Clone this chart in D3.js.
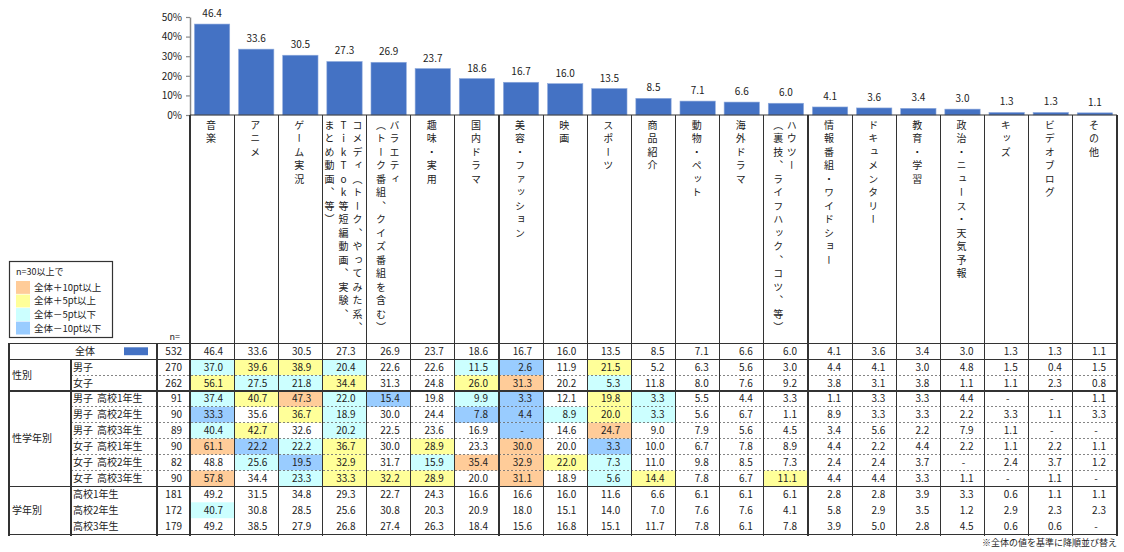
<!DOCTYPE html>
<html><head><meta charset="utf-8">
<script src="https://cdn.jsdelivr.net/npm/d3@7"></script>
<style>
body{margin:0;background:#fff;}
svg{font-family:"Noto Sans CJK JP","Noto Sans",sans-serif;}
</style></head><body>
<svg id="c" width="1124" height="552"></svg>
<script>
// ---------- DATA ----------
const categories = ["音楽","アニメ","ゲーム実況","コメディ（トーク、やってみた系、TikTok等短編動画、実験、まとめ動画、等）","バラエティ（トーク番組、クイズ番組を含む）","趣味・実用","国内ドラマ","美容・ファッション","映画","スポーツ","商品紹介","動物・ペット","海外ドラマ","ハウツー（裏技、ライフハック、コツ、等）","情報番組・ワイドショー","ドキュメンタリー","教育・学習","政治・ニュース・天気予報","キッズ","ビデオブログ","その他"];
const categoryLines = [["音楽"],["アニメ"],["ゲーム実況"],["コメディ（トーク、やってみた系、","TikTok等短編動画、実験、","まとめ動画、等）"],["バラエティ","（トーク番組、クイズ番組を含む）"],["趣味・実用"],["国内ドラマ"],["美容・ファッション"],["映画"],["スポーツ"],["商品紹介"],["動物・ペット"],["海外ドラマ"],["ハウツー","（裏技、ライフハック、コツ、等）"],["情報番組・ワイドショー"],["ドキュメンタリー"],["教育・学習"],["政治・ニュース・天気予報"],["キッズ"],["ビデオブログ"],["その他"]];

const vTotal = [46.4,33.6,30.5,27.3,26.9,23.7,18.6,16.7,16.0,13.5,8.5,7.1,6.6,6.0,4.1,3.6,3.4,3.0,1.3,1.3,1.1];
const vMale  = [37.0,39.6,38.9,20.4,22.6,22.6,11.5,2.6,11.9,21.5,5.2,6.3,5.6,3.0,4.4,4.1,3.0,4.8,1.5,0.4,1.5];
const vFemale= [56.1,27.5,21.8,34.4,31.3,24.8,26.0,31.3,20.2,5.3,11.8,8.0,7.6,9.2,3.8,3.1,3.8,1.1,1.1,2.3,0.8];
const vM1 = [37.4,40.7,47.3,22.0,15.4,19.8,9.9,3.3,12.1,19.8,3.3,5.5,4.4,3.3,1.1,3.3,3.3,4.4,null,null,1.1];
const vM2 = [33.3,35.6,36.7,18.9,30.0,24.4,7.8,4.4,8.9,20.0,3.3,5.6,6.7,1.1,8.9,3.3,3.3,2.2,3.3,1.1,3.3];
const vM3 = [40.4,42.7,32.6,20.2,22.5,23.6,16.9,null,14.6,24.7,9.0,7.9,5.6,4.5,3.4,5.6,2.2,7.9,1.1,null,null];
const vF1 = [61.1,22.2,22.2,36.7,30.0,28.9,23.3,30.0,20.0,3.3,10.0,6.7,7.8,8.9,4.4,2.2,4.4,2.2,1.1,2.2,1.1];
const vF2 = [48.8,25.6,19.5,32.9,31.7,15.9,35.4,32.9,22.0,7.3,11.0,9.8,8.5,7.3,2.4,2.4,3.7,null,2.4,3.7,1.2];
const vF3 = [57.8,34.4,23.3,33.3,32.2,28.9,20.0,31.1,18.9,5.6,14.4,7.8,6.7,11.1,4.4,4.4,3.3,1.1,null,1.1,null];
const vG1 = [49.2,31.5,34.8,29.3,22.7,24.3,16.6,16.6,16.0,11.6,6.6,6.1,6.1,6.1,2.8,2.8,3.9,3.3,0.6,1.1,1.1];
const vG2 = [40.7,30.8,28.5,25.6,30.8,20.3,20.9,18.0,15.1,14.0,7.0,7.6,7.6,4.1,5.8,2.9,3.5,1.2,2.9,2.3,2.3];
const vG3 = [49.2,38.5,27.9,26.8,27.4,26.3,18.4,15.6,16.8,15.1,11.7,7.8,6.1,7.8,3.9,5.0,2.8,4.5,0.6,0.6,null];

const rowLabels = ["全体","男子","女子","男子　高校1年生","男子　高校2年生","男子　高校3年生","女子　高校1年生","女子　高校2年生","女子　高校3年生","高校1年生","高校2年生","高校3年生"];
const rowN = [532,270,262,91,90,89,90,82,90,181,172,179];
const rowValues = [vTotal,vMale,vFemale,vM1,vM2,vM3,vF1,vF2,vF3,vG1,vG2,vG3];
const groupNames = ["性別","性学年別","学年別"];
const groupSizes = [2,6,3];

const yTicks = [0,10,20,30,40,50];
const legendTitle = "n=30以上で";
const legendLabels = ["全体＋10pt以上","全体＋5pt以上","全体－5pt以下","全体－10pt以下"];
const legendColors = ["#FFCC99","#FFFF99","#CCFFFF","#99CCFF"];
const footnote = "※全体の値を基準に降順並び替え";

// ---------- LAYOUT ----------
const svg = d3.select("#c");
const left = 190, right = 1117;
const x = d3.scaleBand().domain(categories).range([left, right]).paddingInner(0.2).paddingOuter(0.1);
const step = x.step();
const colLeft = c => x(c) - (step - x.bandwidth())/2;
const y = d3.scaleLinear().domain([0,50]).range([115,17]);

const tableTop = 343.3, tableBottom = 534.1;
const r = d3.scaleBand().domain(d3.range(rowLabels.length)).range([tableTop, tableBottom]);
const rh = r.step();
const textCol = "#222";
const lineCol = "#333";

// ---------- BARS ----------
svg.append("g").selectAll("rect").data(categories).join("rect")
  .attr("x", c => x(c)).attr("width", x.bandwidth())
  .attr("y", (c,i) => y(vTotal[i])).attr("height", (c,i) => y(0) - y(vTotal[i]))
  .attr("fill", "#4472C4").attr("stroke","#8FAADC").attr("stroke-width",0.6);

svg.append("g").selectAll("text").data(categories).join("text")
  .attr("x", c => x(c) + x.bandwidth()/2).attr("y", (c,i) => y(vTotal[i]) - 7)
  .attr("text-anchor","middle").attr("font-size",10).attr("fill",textCol)
  .text((c,i) => vTotal[i].toFixed(1));

// y axis
const yAxis = svg.append("g").attr("transform",`translate(${left},0)`)
  .call(d3.axisLeft(y).tickValues(yTicks).tickFormat(d => d + "%").tickSize(4).tickSizeOuter(0));
yAxis.select(".domain").attr("stroke","#888").attr("stroke-width",1.5);
yAxis.selectAll(".tick line").attr("stroke","#888").attr("stroke-width",1.2);
yAxis.selectAll(".tick text").attr("font-size",10).attr("fill",textCol).attr("x",-8)
  .style("font-family",'"Noto Sans CJK JP",sans-serif');

// baseline
svg.append("line").attr("x1",left).attr("x2",right).attr("y1",y(0)).attr("y2",y(0))
  .attr("stroke",lineCol).attr("stroke-width",1.2);

// ---------- CATEGORY LABELS (vertical) ----------
const lg = svg.append("g");
categories.forEach((c,i) => {
  const lines = categoryLines[i];
  const cx = x(c) + x.bandwidth()/2 - 1;
  const n = lines.length;
  const sp = n === 3 ? 14 : 13.5;
  lines.forEach((t,j) => {
    const off = ((n-1)/2 - j) * sp;
    lg.append("text").attr("x", cx + off).attr("y", 120)
      .attr("font-size",10).attr("fill",textCol)
      .style("writing-mode","vertical-rl").style("text-orientation","upright")
      .style("letter-spacing","3.5px")
      .text(t);
  });
});

// ---------- LEGEND ----------
const leg = svg.append("g");
leg.append("rect").attr("x",9.5).attr("y",261.5).attr("width",103).attr("height",76)
  .attr("fill","#fff").attr("stroke",lineCol).attr("stroke-width",1.2);
leg.append("text").attr("x",16).attr("y",274.5).attr("font-size",9).attr("fill",textCol).text(legendTitle);
const legY = d3.scaleBand().domain(d3.range(legendLabels.length)).range([281,334.5]).paddingInner(0.05);
legendLabels.forEach((t,i) => {
  leg.append("rect").attr("x",16).attr("y",legY(i)).attr("width",14).attr("height",legY.bandwidth()).attr("fill",legendColors[i]);
  leg.append("text").attr("x",34).attr("y",legY(i)+legY.bandwidth()/2+3.5).attr("font-size",9.5).attr("fill",textCol).text(t);
});
svg.append("text").attr("x",180).attr("y",340).attr("text-anchor","end").attr("font-size",9).attr("fill",textCol).text("n=");

// ---------- TABLE ----------
function cellColor(v, i) {
  const d = Math.round(((v == null ? 0 : v) - vTotal[i]) * 10) / 10;
  if (d >= 10) return legendColors[0];
  if (d >= 5) return legendColors[1];
  if (d <= -10) return legendColors[3];
  if (d <= -5) return legendColors[2];
  return null;
}
const tg = svg.append("g");
rowValues.forEach((vals, ri) => {
  if (ri === 0) return;
  vals.forEach((v, ci) => {
    const col = cellColor(v, ci);
    if (col) tg.append("rect").attr("x", colLeft(categories[ci])).attr("y", r(ri))
      .attr("width", step).attr("height", rh).attr("fill", col);
  });
});

// lines
const L = svg.append("g").attr("stroke", lineCol).attr("shape-rendering","crispEdges");
const solidRows = [0, 1, 3, 9, 12];
solidRows.forEach(k => {
  const yy = k < rowLabels.length ? r(k) : tableBottom;
  L.append("line").attr("x1",9).attr("x2",right).attr("y1",yy).attr("y2",yy).attr("stroke-width",1.2);
});
[2,4,5,6,7,8].forEach(k => {
  L.append("line").attr("x1",71).attr("x2",right).attr("y1",r(k)).attr("y2",r(k))
    .attr("stroke","#666").attr("stroke-width",0.8).attr("stroke-dasharray","2,2");
});
L.append("line").attr("x1",9).attr("x2",9).attr("y1",tableTop).attr("y2",tableBottom+2).attr("stroke-width",1.2);
L.append("line").attr("x1",71).attr("x2",71).attr("y1",r(1)).attr("y2",tableBottom+2).attr("stroke-width",1.2);
L.append("line").attr("x1",157).attr("x2",157).attr("y1",tableTop).attr("y2",tableBottom+2).attr("stroke-width",1.2);
categories.concat([null]).forEach((c,i) => {
  const xx = c ? colLeft(c) : right;
  L.append("line").attr("x1",xx).attr("x2",xx).attr("y1",y(0)).attr("y2",tableBottom+2).attr("stroke-width",1.2);
});

// row texts
const T = svg.append("g").attr("font-size",10).attr("fill",textCol);
rowLabels.forEach((lab, ri) => {
  const yc = r(ri) + rh/2 + 3.5;
  const parts = lab.split("　");
  if (parts.length === 2) {
    T.append("text").attr("x", 73).attr("y", yc).text(parts[0]);
    T.append("text").attr("x", 97).attr("y", yc).text(parts[1]);
  } else {
    T.append("text").attr("x", ri === 0 ? 75 : 73).attr("y", yc).text(lab);
  }
  T.append("text").attr("x", 182).attr("y", yc).attr("text-anchor","end").text(rowN[ri]);
  rowValues[ri].forEach((v, ci) => {
    const cl = colLeft(categories[ci]);
    if (v == null) {
      T.append("text").attr("x", cl + step/2 + 1).attr("y", yc).attr("text-anchor","middle").text("-");
    } else {
      T.append("text").attr("x", cl + step - 11).attr("y", yc).attr("text-anchor","end").text(v.toFixed(1));
    }
  });
});
// 全体 marker
svg.append("rect").attr("x",124).attr("y",r(0)+4).attr("width",24).attr("height",rh-8).attr("fill","#4472C4");

// group labels
let start = 1;
groupNames.forEach((g, gi) => {
  const y0 = r(start), y1 = r(start + groupSizes[gi] - 1) + rh;
  T.append("text").attr("x", 12).attr("y", (y0+y1)/2 + 3.5).text(g);
  start += groupSizes[gi];
});

svg.append("text").attr("x",right).attr("y",546).attr("text-anchor","end").attr("font-size",9).attr("fill",textCol).text(footnote);
</script>
</body></html>
